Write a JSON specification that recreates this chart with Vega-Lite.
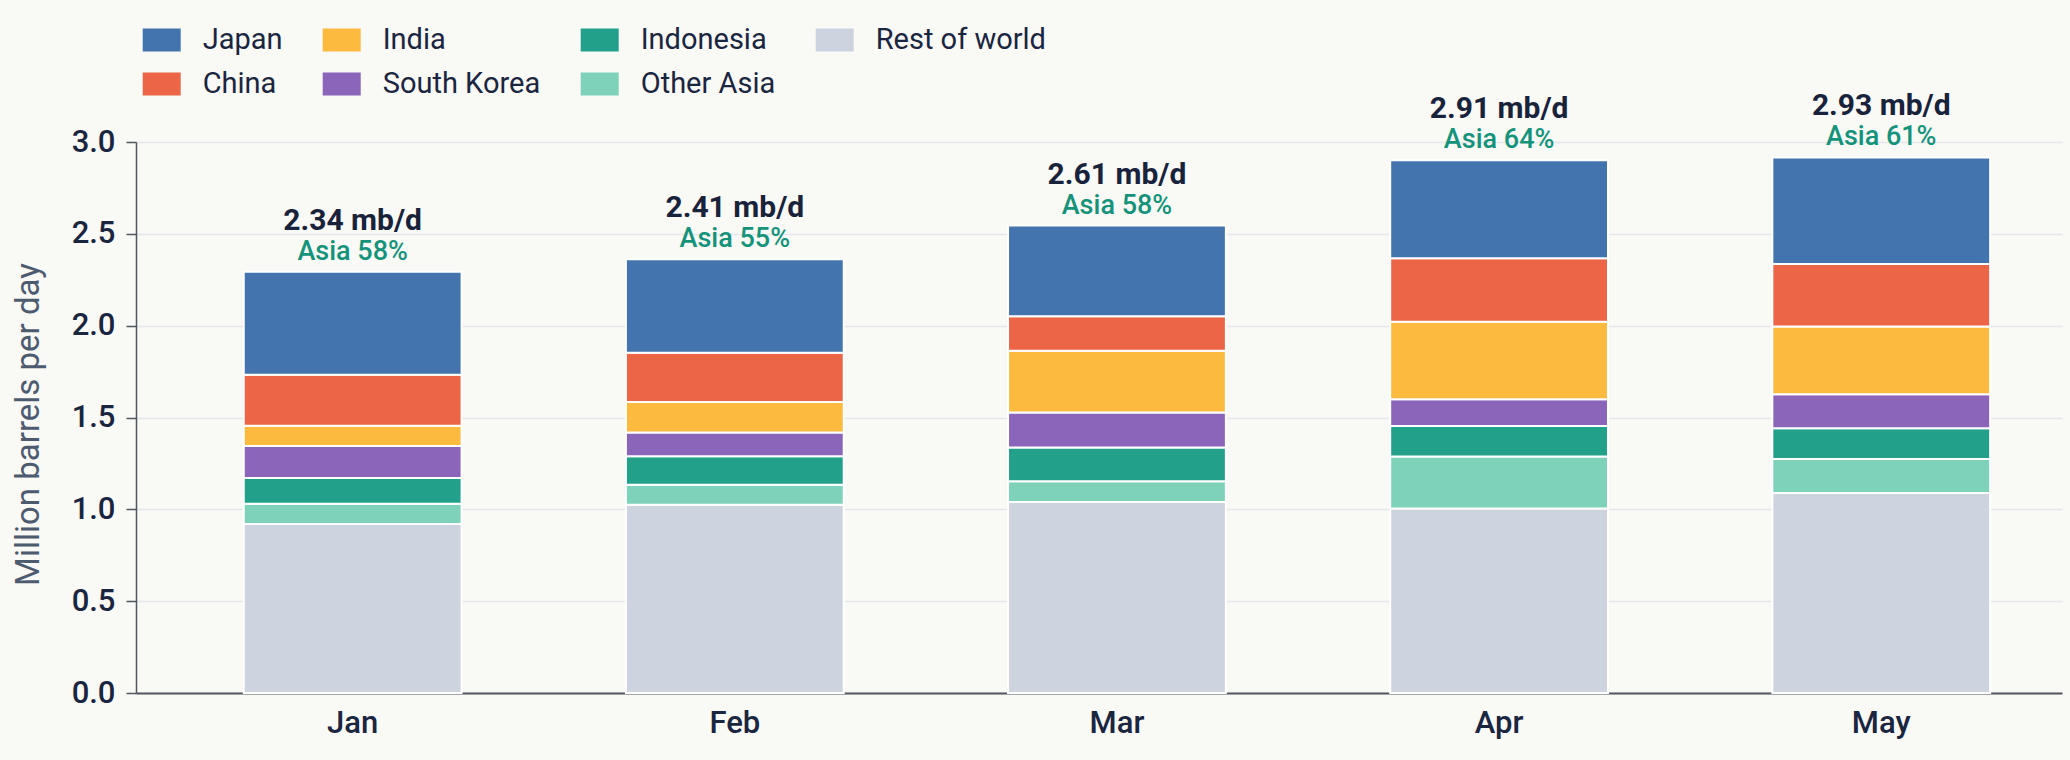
{
  "$schema": "https://vega.github.io/schema/vega-lite/v6.json",
  "width": 1926,
  "height": 551,
  "autosize": {"type": "none"},
  "padding": {"left": 136, "top": 142, "right": 8, "bottom": 67},
  "background": "#f9f9f6",
  "config": {"view": {"stroke": null}, "font": "Roboto"},
  "datasets": {
    "labels": [
      {"month": "Jan", "mbd": "2.34 mb/d", "asia": "Asia 58%"},
      {"month": "Feb", "mbd": "2.41 mb/d", "asia": "Asia 55%"},
      {"month": "Mar", "mbd": "2.61 mb/d", "asia": "Asia 58%"},
      {"month": "Apr", "mbd": "2.91 mb/d", "asia": "Asia 64%"},
      {"month": "May", "mbd": "2.93 mb/d", "asia": "Asia 61%"}
    ]
  },
  "data": {
    "values": [
      {"month": "Jan", "region": "Rest of world", "k": 1, "value": 0.920},
      {"month": "Jan", "region": "Other Asia", "k": 2, "value": 0.110},
      {"month": "Jan", "region": "Indonesia", "k": 3, "value": 0.140},
      {"month": "Jan", "region": "South Korea", "k": 4, "value": 0.175},
      {"month": "Jan", "region": "India", "k": 5, "value": 0.110},
      {"month": "Jan", "region": "China", "k": 6, "value": 0.278},
      {"month": "Jan", "region": "Japan", "k": 7, "value": 0.561},
      {"month": "Feb", "region": "Rest of world", "k": 1, "value": 1.025},
      {"month": "Feb", "region": "Other Asia", "k": 2, "value": 0.109},
      {"month": "Feb", "region": "Indonesia", "k": 3, "value": 0.155},
      {"month": "Feb", "region": "South Korea", "k": 4, "value": 0.129},
      {"month": "Feb", "region": "India", "k": 5, "value": 0.166},
      {"month": "Feb", "region": "China", "k": 6, "value": 0.268},
      {"month": "Feb", "region": "Japan", "k": 7, "value": 0.510},
      {"month": "Mar", "region": "Rest of world", "k": 1, "value": 1.040},
      {"month": "Mar", "region": "Other Asia", "k": 2, "value": 0.113},
      {"month": "Mar", "region": "Indonesia", "k": 3, "value": 0.183},
      {"month": "Mar", "region": "South Korea", "k": 4, "value": 0.191},
      {"month": "Mar", "region": "India", "k": 5, "value": 0.336},
      {"month": "Mar", "region": "China", "k": 6, "value": 0.188},
      {"month": "Mar", "region": "Japan", "k": 7, "value": 0.494},
      {"month": "Apr", "region": "Rest of world", "k": 1, "value": 1.005},
      {"month": "Apr", "region": "Other Asia", "k": 2, "value": 0.282},
      {"month": "Apr", "region": "Indonesia", "k": 3, "value": 0.167},
      {"month": "Apr", "region": "South Korea", "k": 4, "value": 0.146},
      {"month": "Apr", "region": "India", "k": 5, "value": 0.422},
      {"month": "Apr", "region": "China", "k": 6, "value": 0.345},
      {"month": "Apr", "region": "Japan", "k": 7, "value": 0.533},
      {"month": "May", "region": "Rest of world", "k": 1, "value": 1.089},
      {"month": "May", "region": "Other Asia", "k": 2, "value": 0.185},
      {"month": "May", "region": "Indonesia", "k": 3, "value": 0.168},
      {"month": "May", "region": "South Korea", "k": 4, "value": 0.185},
      {"month": "May", "region": "India", "k": 5, "value": 0.369},
      {"month": "May", "region": "China", "k": 6, "value": 0.340},
      {"month": "May", "region": "Japan", "k": 7, "value": 0.580}
    ]
  },
  "layer": [
    {
      "mark": {"type": "bar", "stroke": "white", "strokeWidth": 2},
      "encoding": {
        "x": {
          "field": "month", "type": "nominal",
          "sort": ["Jan", "Feb", "Mar", "Apr", "May"],
          "scale": {"paddingInner": 0.43, "paddingOuter": 0.235, "align": 0.6},
          "axis": {
            "title": null, "labelAngle": 0, "ticks": false, "labelPadding": 15,
            "labelFontSize": 31, "labelFontWeight": 500, "labelColor": "#1a2540",
            "domainColor": "#50555e", "domainWidth": 2, "grid": false
          }
        },
        "y": {
          "field": "value", "type": "quantitative", "stack": "zero",
          "scale": {"domain": [0, 3], "nice": false},
          "axis": {
            "title": "Million barrels per day",
            "values": [0, 0.5, 1, 1.5, 2, 2.5, 3], "format": ".1f",
            "labelFontSize": 31, "labelFontWeight": 500, "labelColor": "#1a2540",
            "labelPadding": 11, "tickSize": 10, "tickColor": "#50555e", "tickWidth": 1.5,
            "domainColor": "#50555e", "domainWidth": 1.5,
            "gridColor": "#e5e7ec", "gridWidth": 1.5,
            "titleFontSize": 33, "titleFontWeight": 400, "titleColor": "#4d5b70",
            "titleX": -108, "titleY": 282, "titleAngle": -90,
            "titleAlign": "center", "titleBaseline": "middle"
          }
        },
        "color": {
          "field": "region", "type": "nominal",
          "scale": {
            "domain": ["Japan", "China", "India", "South Korea", "Indonesia", "Other Asia", "Rest of world"],
            "range": ["#4374ad", "#ec6547", "#fcbb3e", "#8a65ba", "#22a08a", "#7fd2ba", "#ced4df"]
          },
          "legend": {
            "orient": "none", "legendX": 6.7, "legendY": -121,
            "direction": "horizontal", "columns": 4, "title": null,
            "values": ["Japan", "India", "Indonesia", "Rest of world", "China", "South Korea", "Other Asia"],
            "symbolType": "M-1,-0.605H1V0.605H-1Z", "symbolSize": 1444,
            "symbolStrokeWidth": 0, "symbolOpacity": 1,
            "labelFontSize": 29, "labelColor": "#1a2540", "labelOffset": 22, "labelLimit": 400,
            "columnPadding": 40, "rowPadding": 10, "padding": 0
          }
        },
        "order": {"field": "k", "type": "quantitative"}
      }
    },
    {
      "transform": [
        {"aggregate": [{"op": "sum", "field": "value", "as": "total"}], "groupby": ["month"]},
        {"lookup": "month", "from": {"data": {"name": "labels"}, "key": "month", "fields": ["mbd", "asia"]}}
      ],
      "mark": {"type": "text", "dy": -42, "fontSize": 30, "fontWeight": "bold", "color": "#18233b", "baseline": "alphabetic", "align": "center"},
      "encoding": {
        "x": {"field": "month", "type": "nominal", "sort": ["Jan", "Feb", "Mar", "Apr", "May"]},
        "y": {"field": "total", "type": "quantitative"},
        "text": {"field": "mbd"}
      }
    },
    {
      "transform": [
        {"aggregate": [{"op": "sum", "field": "value", "as": "total"}], "groupby": ["month"]},
        {"lookup": "month", "from": {"data": {"name": "labels"}, "key": "month", "fields": ["mbd", "asia"]}}
      ],
      "mark": {"type": "text", "dy": -12, "fontSize": 27, "fontWeight": 500, "color": "#14937a", "baseline": "alphabetic", "align": "center"},
      "encoding": {
        "x": {"field": "month", "type": "nominal", "sort": ["Jan", "Feb", "Mar", "Apr", "May"]},
        "y": {"field": "total", "type": "quantitative"},
        "text": {"field": "asia"}
      }
    }
  ]
}
